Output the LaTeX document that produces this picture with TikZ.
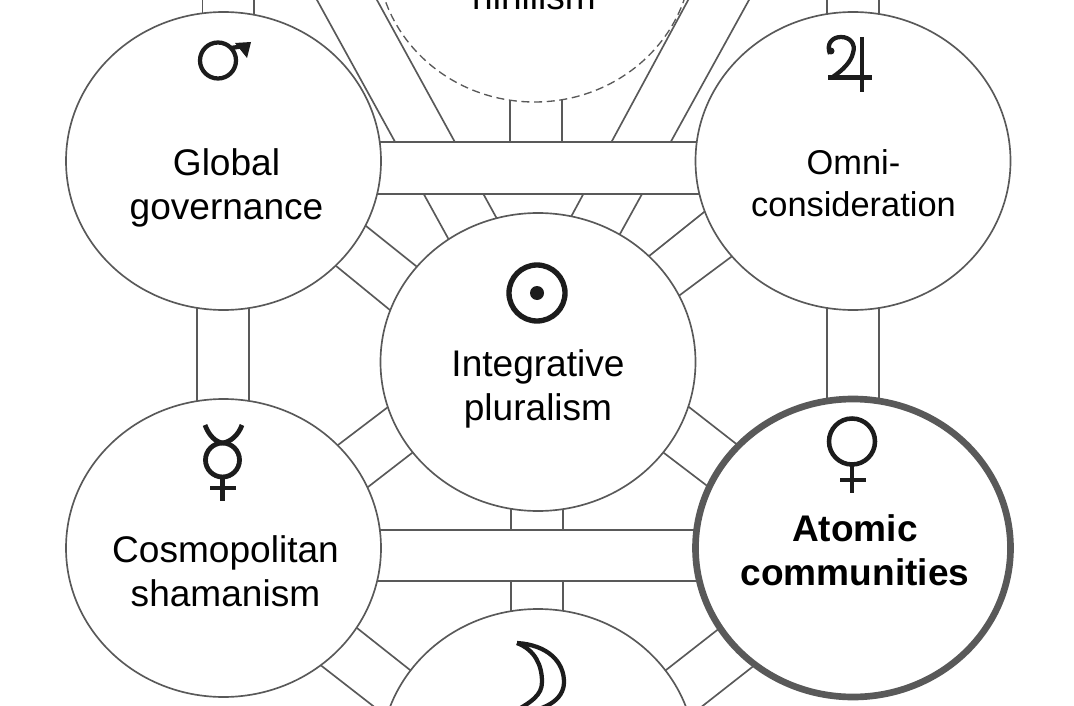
\documentclass[tikz,border=0pt]{standalone}
\usepackage{fontspec}
\setmainfont{Liberation Sans}
\usetikzlibrary{shapes.geometric,backgrounds}
\definecolor{linegray}{HTML}{595959}
\definecolor{signgray}{HTML}{1C1C1C}
\tikzset{
  orb/.style={ellipse, draw=linegray, fill=white, line width=1.25pt, inner sep=0pt, outer sep=0pt,
    minimum width=236.25pt, minimum height=223.5pt},
  strut/.style={draw=linegray, line width=1.25pt},
  caption/.style={align=center, inner sep=0pt, font=\fontsize{27.8}{33}\selectfont},
  sign/.style={draw=signgray, line width=3.2pt}
}
\begin{document}
\begin{tikzpicture}[x=0.75pt,y=-0.75pt]
  \useasboundingbox (0,0) rectangle (1074,706);
  % spheres
  \node[orb, dash pattern=on 6pt off 3.5pt, line width=1pt] (nihil) at (534.5,-47) {};
  \node[orb] (glob) at (223.5,161) {};
  \node[orb] (omni) at (853,161) {};
  \node[orb] (plur) at (538,362) {};
  \node[orb] (cosm) at (223.5,548) {};
  \node[orb, line width=5pt] (atom) at (853,548) {};
  \node[orb] (luna) at (538,758) {};
  % free ends, above the page and behind the upper bar
  \coordinate (offa) at (202.5,-20);
  \coordinate (offb) at (254,-20);
  \coordinate (offc) at (827,-20);
  \coordinate (offd) at (879,-20);
  \coordinate (offe) at (306,-20);
  \coordinate (offf) at (366,-20);
  \coordinate (offg) at (699,-20);
  \coordinate (offh) at (760,-20);
  \coordinate (barl) at (510,160);
  \coordinate (barr) at (562,160);
  % paths between the spheres, their ends hidden under the spheres
  \begin{scope}[on background layer]
    \draw[strut] ([shift={(-21,0)}]glob.center) -- (offa);
    \draw[strut] ([shift={(30.5,0)}]glob.center) -- (offb);
    \draw[strut] ([shift={(-26,0)}]omni.center) -- (offc);
    \draw[strut] ([shift={(26,0)}]omni.center) -- (offd);
    \draw[strut] ([shift={(-81,-107.5)}]plur.center) -- (offe);
    \draw[strut] ([shift={(-33.8,-130)}]plur.center) -- (offf);
    \draw[strut] ([shift={(25.9,-132)}]plur.center) -- (offg);
    \draw[strut] ([shift={(73.7,-113)}]plur.center) -- (offh);
    \draw[strut] ([shift={(-26.5,0)}]glob.center) -- ([shift={(-26.5,0)}]cosm.center);
    \draw[strut] ([shift={(25.5,0)}]glob.center) -- ([shift={(25.5,0)}]cosm.center);
    \draw[strut] ([shift={(-26,0)}]omni.center) -- ([shift={(-26,0)}]atom.center);
    \draw[strut] ([shift={(26,0)}]omni.center) -- ([shift={(26,0)}]atom.center);
    \draw[strut] ([shift={(135,59)}]glob.center) -- ([shift={(-114.5,-90)}]plur.center);
    \draw[strut] ([shift={(104.5,98.4)}]glob.center) -- ([shift={(-140,-45.4)}]plur.center);
    \draw[strut] ([shift={(-142,45.5)}]omni.center) -- ([shift={(103,-99.5)}]plur.center);
    \draw[strut] ([shift={(-114.3,90.3)}]omni.center) -- ([shift={(134.3,-61.3)}]plur.center);
    \draw[strut] ([shift={(107,-97.3)}]cosm.center) -- ([shift={(-142.5,39.3)}]plur.center);
    \draw[strut] ([shift={(137.9,-55.9)}]cosm.center) -- ([shift={(-119.4,85.9)}]plur.center);
    \draw[strut] ([shift={(-111,-99.6)}]atom.center) -- ([shift={(144,39.6)}]plur.center);
    \draw[strut] ([shift={(-140.7,-58.2)}]atom.center) -- ([shift={(119.7,86.2)}]plur.center);
    \draw[strut] ([shift={(125.5,73.7)}]cosm.center) -- ([shift={(-120,-81.7)}]luna.center);
    \draw[strut] ([shift={(90.5,112)}]cosm.center) -- ([shift={(-143,-35)}]luna.center);
    \draw[strut] ([shift={(-129.5,77.1)}]atom.center) -- ([shift={(120.5,-82.1)}]luna.center);
    \draw[strut] ([shift={(-95,114.5)}]atom.center) -- ([shift={(143,-35.1)}]luna.center);
    \draw[strut] ([shift={(-27,0)}]plur.center) -- ([shift={(-27,0)}]luna.center);
    \draw[strut] ([shift={(25,0)}]plur.center) -- ([shift={(25,0)}]luna.center);
    \draw[strut] ([shift={(-24.5,0)}]nihil.center) -- (barl);
    \draw[strut] ([shift={(27.5,0)}]nihil.center) -- (barr);
    % the two wide bars lie over the paths that cross them
    \fill[white] ([shift={(0,-19)}]glob.center) rectangle ([shift={(0,33)}]omni.center);
    \fill[white] ([shift={(0,-18)}]cosm.center) rectangle ([shift={(0,33)}]atom.center);
    \draw[strut] ([shift={(0,-19)}]glob.center) -- ([shift={(0,-19)}]omni.center);
    \draw[strut] ([shift={(0,33)}]glob.center) -- ([shift={(0,33)}]omni.center);
    \draw[strut] ([shift={(0,-18)}]cosm.center) -- ([shift={(0,-18)}]atom.center);
    \draw[strut] ([shift={(0,33)}]cosm.center) -- ([shift={(0,33)}]atom.center);
  \end{scope}
  % captions
  \node[caption] (nihiltxt) at (534,-4) {nihilism};
  \node[caption] (globtxt) at (226.5,188) {Global\\governance};
  \node[caption, font=\fontsize{25.8}{31.5}\selectfont] (omnitxt) at (853.5,183) {Omni-\\consideration};
  \node[caption] (plurtxt) at (538,389) {Integrative\\pluralism};
  \node[caption] (cosmtxt) at (225.5,571) {Cosmopolitan\\shamanism};
  \node[caption, font=\fontsize{27.8}{33}\selectfont\bfseries] (atomtxt) at (855,550) {Atomic\\communities};
  % planet signs
  \draw[sign] (218,60.5) circle (18);
  \draw[sign] (231,48) -- (244,46);
  \fill[signgray] (235,43) -- (251,42) -- (247,58) -- cycle;
  \draw[sign] (830,54) .. controls (826,44) and (832,37) .. (841,37) .. controls (850,37) and (856,44) .. (853,53) .. controls (851,62) and (843,70) .. (832,77.5);
  \draw[sign] (828,77.5) -- (872,77.5) (862,37) -- (862,92);
  \fill[signgray] (831,51) circle (3.5);
  \draw[sign, line width=4pt] (537,293) circle (28);
  \fill[signgray] (537,293) circle (7);
  \draw[sign, line width=3.6pt] (222.5,460) circle (17);
  \draw[sign, line width=3.6pt] (205,425) .. controls (209,436) and (216,442) .. (222.5,443) .. controls (230,442) and (238,436) .. (242,425);
  \draw[sign] (222.5,477) -- (222.5,501) (210,488) -- (236,488);
  \draw[sign, line width=3.4pt] (852,441.5) circle (23);
  \draw[sign] (852,464.5) -- (852,493) (840,480) -- (866,480);
  \draw[sign] (517,643) .. controls (548,645) and (564,662) .. (564,682) .. controls (564,700) and (545,712) .. (510,714);
  \draw[sign] (517,643) .. controls (535,650) and (542,665) .. (542,682) .. controls (542,695) and (532,702) .. (510,714);
\end{tikzpicture}
\end{document}
